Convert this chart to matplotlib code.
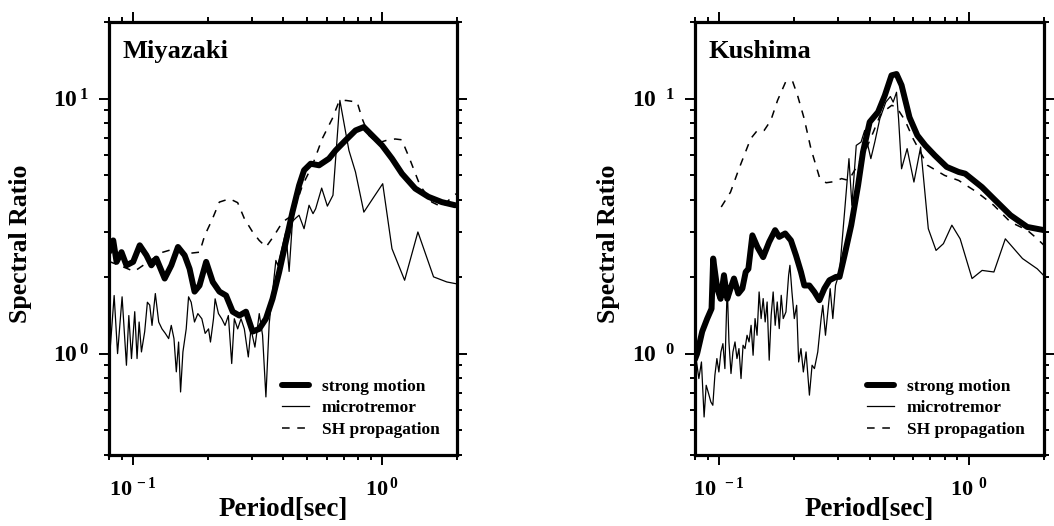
import matplotlib
matplotlib.use('Agg')
import matplotlib.pyplot as plt
from matplotlib.ticker import FixedLocator, FixedFormatter, NullFormatter

plt.rcParams['font.family'] = ['Liberation Serif', 'DejaVu Serif']
plt.rcParams['font.weight'] = 'bold'
plt.rcParams['mathtext.fontset'] = 'custom'
plt.rcParams['mathtext.rm'] = 'Liberation Serif:bold'
plt.rcParams['mathtext.bf'] = 'Liberation Serif:bold'
plt.rcParams['mathtext.it'] = 'Liberation Serif:bold'
plt.rcParams['mathtext.default'] = 'rm'

# ---------------- data: Miyazaki ----------------
miy_strong_T = [0.080, 0.0832, 0.0858, 0.0898, 0.094, 0.100, 0.1063, 0.1131, 0.1184, 0.124,
                0.1339, 0.1424, 0.1514, 0.161, 0.1686, 0.1765, 0.1848, 0.1965, 0.2089, 0.2222,
                0.2362, 0.2512, 0.2671, 0.284, 0.302, 0.3211, 0.3415, 0.3631, 0.3861, 0.4105,
                0.4365, 0.4642, 0.486, 0.5168, 0.5582, 0.6121, 0.6509, 0.7137, 0.7826, 0.8447,
                0.912, 1.0, 1.0965, 1.2023, 1.3594, 1.537, 1.7378, 1.965]
miy_strong_V = [2.50, 2.78, 2.29, 2.50, 2.22, 2.29, 2.66, 2.43, 2.22, 2.36,
                1.97, 2.22, 2.62, 2.43, 2.15, 1.75, 1.85, 2.29, 1.91, 1.75,
                1.69, 1.46, 1.41, 1.46, 1.22, 1.25, 1.37, 1.64, 2.09, 2.74,
                3.59, 4.57, 5.24, 5.56, 5.48, 5.82, 6.27, 6.87, 7.51, 7.74,
                7.18, 6.56, 5.82, 5.08, 4.44, 4.12, 3.93, 3.82]

miy_micro_T = [0.0807, 0.0839, 0.0866, 0.0903, 0.0940, 0.0961, 0.0985, 0.1015, 0.1037, 0.1057,
               0.108, 0.1113, 0.1141, 0.1166, 0.1191, 0.1228, 0.1267, 0.1306, 0.1347, 0.1389,
               0.1423, 0.1459, 0.1491, 0.1523, 0.1551, 0.1585, 0.1634, 0.167, 0.1711, 0.1764,
               0.182, 0.1888, 0.1947, 0.2009, 0.2045, 0.2103, 0.2135, 0.2202, 0.227, 0.234,
               0.2413, 0.2489, 0.255, 0.263, 0.2713, 0.2797, 0.2902, 0.2973, 0.3085, 0.3211,
               0.3311, 0.3415, 0.352, 0.3745, 0.381, 0.4105, 0.4233, 0.4365, 0.45, 0.464,
               0.486, 0.509, 0.528, 0.541, 0.572, 0.603, 0.635, 0.677, 0.736, 0.782,
               0.845, 0.926, 1.006, 1.096, 1.232, 1.393, 1.61, 1.82, 1.98]
miy_micro_V = [1.015, 1.69, 1.0, 1.67, 0.90, 1.41, 0.956, 1.46, 0.956, 1.33,
               1.015, 1.22, 1.59, 1.55, 1.29, 1.72, 1.33, 1.25, 1.20, 1.145,
               1.29, 1.145, 0.848, 1.11, 0.707, 1.015, 1.25, 1.67, 1.59, 1.33,
               1.435, 1.37, 1.20, 1.25, 1.11, 1.37, 1.64, 1.435, 1.37, 1.29,
               1.41, 0.914, 1.37, 1.25, 1.37, 1.25, 0.97, 1.25, 1.06, 1.435,
               1.18, 0.676, 1.31, 2.32, 2.22, 3.0, 2.1, 3.3, 3.4, 3.49,
               3.09, 3.82, 3.54, 3.70, 4.46, 3.79, 4.18, 9.85, 6.27, 5.16,
               3.59, 4.11, 4.64, 2.58, 1.94, 3.0, 2.0, 1.91, 1.88]

miy_sh_T = [0.080, 0.090, 0.101, 0.115, 0.130, 0.147, 0.166, 0.185, 0.194, 0.207,
            0.222, 0.244, 0.263, 0.280, 0.302, 0.321, 0.342, 0.369, 0.398, 0.436,
            0.479, 0.525, 0.575, 0.631, 0.670, 0.714, 0.794, 0.832, 0.885, 0.96,
            1.06, 1.13, 1.20, 1.29, 1.42, 1.585, 1.74, 1.94, 2.0]
miy_sh_V = [2.30, 2.20, 2.10, 2.29, 2.49, 2.58, 2.47, 2.50, 2.91, 3.33,
            3.93, 4.05, 3.91, 3.38, 3.00, 2.78, 2.62, 2.91, 3.28, 3.49,
            4.57, 5.48, 6.97, 8.35, 9.70, 9.85, 9.70, 8.35, 7.18, 6.70,
            6.90, 6.95, 6.90, 5.82, 4.57, 3.93, 3.76, 4.18, 4.25]

# ---------------- data: Kushima ----------------
kus_strong_T = [0.080, 0.0816, 0.0855, 0.0895, 0.0932, 0.0946, 0.0982, 0.1013, 0.1045, 0.1077,
                0.111, 0.1146, 0.1193, 0.1238, 0.1277, 0.1309, 0.1358, 0.1422, 0.150, 0.1585,
                0.1675, 0.1739, 0.1838, 0.1938, 0.203, 0.2126, 0.2193, 0.2297, 0.2405, 0.252,
                0.2638, 0.2764, 0.294, 0.3034, 0.3178, 0.338, 0.360, 0.3767, 0.4007, 0.433,
                0.4607, 0.490, 0.5132, 0.5376, 0.5785, 0.6219, 0.6688, 0.7306, 0.8153, 0.910,
                0.967, 1.1285, 1.258, 1.468, 1.713, 2.0]
kus_strong_V = [0.95, 1.0, 1.22, 1.37, 1.50, 2.36, 1.80, 1.64, 2.03, 1.64,
                1.80, 1.97, 1.72, 1.80, 2.09, 2.15, 2.91, 2.62, 2.39, 2.74,
                3.05, 2.87, 2.96, 2.78, 2.43, 2.09, 1.85, 1.85, 1.745, 1.62,
                1.80, 1.94, 2.0, 2.0, 2.43, 3.19, 4.57, 6.18, 8.1, 8.87,
                10.3, 12.35, 12.5, 11.3, 8.45, 7.18, 6.56, 5.99, 5.40, 5.16,
                5.08, 4.5, 4.05, 3.49, 3.14, 3.05]

kus_micro_T = [0.0808, 0.0829, 0.0849, 0.0870, 0.0887, 0.0903, 0.0926, 0.0943, 0.0961, 0.0979,
               0.0997, 0.1016, 0.1035, 0.1054, 0.1077, 0.1094, 0.1115, 0.1135, 0.1157, 0.1178,
               0.1200, 0.1223, 0.1246, 0.1269, 0.1293, 0.1317, 0.1342, 0.1367, 0.1392, 0.1418,
               0.1445, 0.1472, 0.1500, 0.1528, 0.1556, 0.1586, 0.1615, 0.1645, 0.1676, 0.1708,
               0.1740, 0.1772, 0.1805, 0.1851, 0.1897, 0.1920, 0.1956, 0.1999, 0.2043, 0.2081,
               0.2126, 0.2173, 0.2228, 0.2298, 0.2355, 0.2407, 0.2482, 0.2560, 0.2600, 0.2665,
               0.2723, 0.2783, 0.2852, 0.2924,
               0.3034, 0.3178, 0.331, 0.340, 0.354, 0.370, 0.3826, 0.394, 0.405, 0.420,
               0.440, 0.465, 0.485, 0.4976, 0.5132, 0.523, 0.5376, 0.566, 0.6026, 0.641,
               0.688, 0.739, 0.791, 0.855, 0.923, 1.03, 1.13, 1.26, 1.40, 1.64,
               1.88, 2.05]
kus_micro_V = [0.956, 0.798, 0.927, 0.564, 0.751, 0.707, 0.646, 0.627, 0.822, 0.956,
               0.847, 1.015, 1.094, 0.873, 1.853, 1.111, 0.835, 1.015, 1.111, 0.956,
               1.046, 0.798, 1.078, 1.046, 1.180, 1.111, 1.291, 0.985, 1.372, 1.180,
               1.745, 1.372, 1.644, 1.331, 1.594, 0.942, 1.413, 1.745, 1.291, 1.594,
               1.253, 1.693, 1.372, 1.457, 2.028, 2.220, 1.745, 1.372, 1.547, 0.927,
               1.046, 0.847, 1.015, 0.687, 0.900, 0.873, 1.015, 1.372, 1.547, 1.180,
               1.457, 1.798, 1.372, 1.853,
               2.09, 3.59, 5.82, 3.82, 6.56, 6.76, 7.51, 6.56, 5.82, 6.76,
               8.35, 9.7, 10.2, 9.7, 10.6, 8.35, 5.31, 6.37, 4.71, 6.46,
               3.09, 2.54, 2.70, 3.19, 2.82, 1.97, 2.12, 2.09, 2.82, 2.36,
               2.15, 1.97]

kus_sh_T = [0.1019, 0.111, 0.120, 0.1337, 0.1422, 0.1514, 0.161, 0.1713, 0.185, 0.1968,
            0.206, 0.219, 0.233, 0.2519, 0.268, 0.2894, 0.309, 0.33, 0.378, 0.4144,
            0.4408, 0.469, 0.491, 0.513, 0.555, 0.598, 0.683, 0.80, 0.91, 1.077,
            1.258, 1.468, 1.713, 1.88, 2.0]
kus_sh_V = [3.76, 4.30, 5.31, 6.97, 7.51, 7.51, 8.22, 9.85, 11.7, 11.7,
            10.3, 8.35, 6.37, 4.93, 4.68, 4.73, 4.86, 4.78, 5.99, 7.4,
            8.6, 9.1, 9.42, 9.27, 8.22, 6.97, 5.48, 5.0, 4.78, 4.30,
            3.82, 3.28, 3.05, 2.82, 2.66]

legend_labels = ['strong motion', 'microtremor', 'SH propagation']
x_major = [0.1, 1.0]
x_minor = [0.08, 0.09, 0.2, 0.3, 0.4, 0.5, 0.6, 0.7, 0.8, 0.9, 2.0]
y_major = [1.0, 10.0]
y_minor = [0.4, 0.5, 0.6, 0.7, 0.8, 0.9, 2, 3, 4, 5, 6, 7, 8, 9, 20]

fig = plt.figure(figsize=(10.54, 5.26), dpi=100)
ax1 = fig.add_axes([109 / 1054, 71 / 526, 348 / 1054, 433 / 526])
ax2 = fig.add_axes([695 / 1054, 71 / 526, 349 / 1054, 433 / 526])


def draw(ax, name, sT, sV, mT, mV, hT, hV, xlabs, ylabs, leg_x, ylab_x):
    ax.set_xscale('log')
    ax.set_yscale('log')
    l3, = ax.plot(hT, hV, color='black', lw=1.1, dashes=(5, 5))
    l2, = ax.plot(mT, mV, color='black', lw=0.9)
    l1, = ax.plot(sT, sV, color='black', lw=4.3, solid_joinstyle='round',
                  solid_capstyle='round')
    ax.set_xlim(0.08, 2.0)
    ax.set_ylim(0.4, 20.0)
    ax.xaxis.set_major_locator(FixedLocator(x_major))
    ax.xaxis.set_major_formatter(FixedFormatter(xlabs))
    ax.xaxis.set_minor_locator(FixedLocator(x_minor))
    ax.xaxis.set_minor_formatter(NullFormatter())
    ax.yaxis.set_major_locator(FixedLocator(y_major))
    ax.yaxis.set_major_formatter(FixedFormatter(ylabs))
    ax.yaxis.set_minor_locator(FixedLocator(y_minor))
    ax.yaxis.set_minor_formatter(NullFormatter())
    for sp in ax.spines.values():
        sp.set_linewidth(2.3)
    ax.tick_params(which='both', direction='out', top=True, right=True, width=1.4)
    ax.tick_params(which='major', length=7.5)
    ax.tick_params(which='minor', length=3.5)
    ax.tick_params(axis='x', which='major', pad=9, labelsize=16)
    ax.tick_params(axis='y', which='major', pad=7, labelsize=17)
    ax.text(0.04, 0.917, name, transform=ax.transAxes, fontsize=19,
            fontweight='bold', va='baseline', ha='left')
    ax.set_xlabel('Period[sec]', fontsize=19.5, fontweight='bold')
    ax.xaxis.set_label_coords(0.5, -0.098)
    ax.set_ylabel('Spectral Ratio', fontsize=18.5, fontweight='bold')
    ax.yaxis.set_label_coords(ylab_x, 0.487)
    ax.legend([l1, l2, l3], legend_labels, loc='upper left',
              bbox_to_anchor=(leg_x, 0.176), frameon=False, borderpad=0,
              borderaxespad=0, handlelength=1.55, handletextpad=0.75,
              labelspacing=0.31, prop={'family': 'Liberation Serif',
                                       'weight': 'bold', 'size': 12.5})


draw(ax1, 'Miyazaki', miy_strong_T, miy_strong_V, miy_micro_T, miy_micro_V,
     miy_sh_T, miy_sh_V,
     [r'$10^{\,-1}$', r'$10^{\,0}$'], [r'$10^{\,0}$', r'$10^{\,1}$'], 0.497, -0.222)
draw(ax2, 'Kushima', kus_strong_T, kus_strong_V, kus_micro_T, kus_micro_V,
     kus_sh_T, kus_sh_V,
     [r'$10^{\ \,-1}$', r'$10^{\ \,0}$'], [r'$10^{\ \ 0}$', r'$10^{\ \ 1}$'], 0.493, -0.215)

fig.savefig('out.png', dpi=100)
